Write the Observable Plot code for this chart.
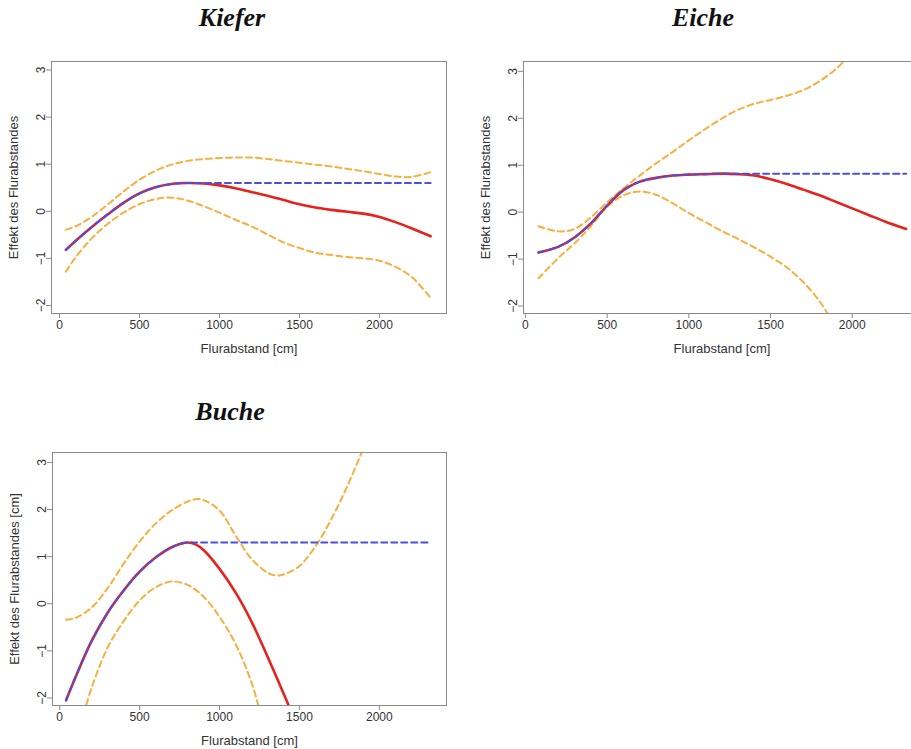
<!DOCTYPE html>
<html>
<head>
<meta charset="utf-8">
<script src="https://cdn.jsdelivr.net/npm/d3@7"></script>
<script src="https://cdn.jsdelivr.net/npm/@observablehq/plot@0.6"></script>
<style>
html, body { margin: 0; padding: 0; background: #fff; overflow: hidden; }
#root { position: relative; width: 911px; height: 749px; overflow: hidden; background: #fff; }
.title { position: absolute; font-family: "Liberation Serif", "DejaVu Serif", serif; font-weight: bold; font-style: italic; font-size: 26px; line-height: 1; color: #111; transform: translateX(-50%); white-space: nowrap; }
.panel { position: absolute; }
</style>
</head>
<body>
<div id="root"></div>
<script>
// ---- tick labels ----
const yTicks = [-2, -1, 0, 1, 2, 3];
const xTicks = [0, 500, 1000, 1500, 2000];
const xLabel = "Flurabstand [cm]";

// ---- Kiefer ----
const kieferX     = [40, 100, 200, 300, 400, 500, 600, 700, 800, 900, 1000, 1100, 1200, 1300, 1400, 1500, 1600, 1700, 1800, 1900, 2000, 2100, 2200, 2320];
const kieferFit   = [-0.82, -0.63, -0.34, -0.07, 0.18, 0.38, 0.51, 0.58, 0.60, 0.59, 0.55, 0.49, 0.41, 0.33, 0.24, 0.15, 0.08, 0.03, -0.01, -0.05, -0.12, -0.23, -0.36, -0.53];
const kieferMono  = [-0.82, -0.63, -0.34, -0.07, 0.18, 0.38, 0.51, 0.58, 0.60, 0.60, 0.60, 0.60, 0.60, 0.60, 0.60, 0.60, 0.60, 0.60, 0.60, 0.60, 0.60, 0.60, 0.60, 0.60];
const kieferUpper = [-0.39, -0.32, -0.12, 0.14, 0.42, 0.67, 0.86, 0.99, 1.07, 1.11, 1.13, 1.14, 1.14, 1.11, 1.07, 1.03, 0.99, 0.95, 0.90, 0.85, 0.79, 0.74, 0.73, 0.83];
const kieferLower = [-1.28, -0.98, -0.58, -0.27, -0.03, 0.15, 0.26, 0.29, 0.23, 0.11, -0.03, -0.18, -0.32, -0.49, -0.66, -0.78, -0.88, -0.93, -0.97, -1.00, -1.05, -1.18, -1.39, -1.84];

// ---- Eiche ----
const eicheX     = [80, 200, 300, 400, 500, 600, 700, 800, 900, 1000, 1100, 1200, 1300, 1400, 1500, 1600, 1700, 1800, 1900, 2000, 2100, 2200, 2330];
const eicheFit   = [-0.86, -0.74, -0.54, -0.24, 0.14, 0.47, 0.65, 0.73, 0.78, 0.80, 0.81, 0.82, 0.81, 0.78, 0.70, 0.60, 0.48, 0.36, 0.22, 0.08, -0.06, -0.20, -0.36];
const eicheMono  = [-0.86, -0.74, -0.54, -0.24, 0.14, 0.47, 0.65, 0.73, 0.78, 0.80, 0.81, 0.82, 0.82, 0.82, 0.82, 0.82, 0.82, 0.82, 0.82, 0.82, 0.82, 0.82, 0.82];
const eicheUpper = [-0.30, -0.41, -0.36, -0.11, 0.21, 0.51, 0.78, 1.04, 1.28, 1.53, 1.77, 1.99, 2.18, 2.31, 2.39, 2.48, 2.60, 2.79, 3.05, 3.40, null, null, null];
const eicheLower = [-1.41, -0.98, -0.67, -0.30, 0.11, 0.36, 0.44, 0.37, 0.19, -0.02, -0.21, -0.40, -0.57, -0.75, -0.95, -1.18, -1.49, -1.90, -2.45, null, null, null, null];

// ---- Buche ----
const bucheX     = [40, 100, 150, 200, 300, 400, 500, 600, 700, 800, 850, 900, 1000, 1100, 1200, 1250, 1300, 1350, 1400, 1450, 1500, 1600, 1700, 1800, 1900, 2000, 2100, 2200, 2320];
const bucheFit   = [-2.05, -1.55, null, -0.79, -0.19, 0.28, 0.68, 0.98, 1.20, 1.30, 1.26, 1.14, 0.74, 0.24, -0.38, null, -1.12, null, -1.90, -2.30, null, null, null, null, null, null, null, null, null];
const bucheMono  = [-2.05, -1.55, null, -0.79, -0.19, 0.28, 0.68, 0.98, 1.20, 1.30, 1.30, 1.30, 1.30, 1.30, 1.30, 1.30, 1.30, 1.30, 1.30, 1.30, 1.30, 1.30, 1.30, 1.30, 1.30, 1.30, 1.30, 1.30, 1.30];
const bucheUpper = [-0.34, -0.30, null, -0.08, 0.33, 0.85, 1.32, 1.70, 1.98, 2.17, 2.22, 2.20, 1.98, 1.45, 0.95, null, 0.66, 0.60, 0.62, null, 0.80, 1.22, 1.80, 2.50, 3.30, null, null, null, null];
const bucheLower = [null, null, -2.35, -1.78, -0.93, -0.37, 0.07, 0.35, 0.47, 0.40, null, 0.15, -0.28, -0.85, -1.67, -2.25, null, null, null, null, null, null, null, null, null, null, null, null, null];

// ---- colours ----
const cOrange = "#f5b040";
const cRed = "#e5231c";
const cBlue = "#4d4ddf";

const root = document.getElementById("root");

function rows(xs, ys) {
  return xs.map((x, i) => ({x, y: ys[i]})).filter(d => d.y != null);
}

function panel({title, titleX, titleTop, xs, fit, mono, upper, lower, yLabel, frame, xDomain, yDomain}) {
  const [fl, ft, fr, fb] = frame;
  const mL = 51, mT = 10, mR = 14, mB = 48;
  const width = fr - fl + mL + mR;
  const height = fb - ft + mT + mB;
  const plot = Plot.plot({
    width, height,
    marginLeft: mL, marginTop: mT, marginRight: mR, marginBottom: mB,
    x: {domain: xDomain},
    y: {domain: yDomain},
    style: {fontFamily: "'Liberation Sans', Arial, Helvetica, sans-serif", fontSize: "12px", color: "#333", background: "transparent", overflow: "visible"},
    marks: [
      Plot.line(rows(xs, upper), {x: "x", y: "y", stroke: cOrange, strokeWidth: 2, strokeDasharray: "6,4", curve: "catmull-rom", clip: true}),
      Plot.line(rows(xs, lower), {x: "x", y: "y", stroke: cOrange, strokeWidth: 2, strokeDasharray: "6,4", curve: "catmull-rom", clip: true}),
      Plot.line(rows(xs, fit), {x: "x", y: "y", stroke: cRed, strokeWidth: 2.6, curve: "catmull-rom", clip: true}),
      Plot.line(rows(xs, mono), {x: "x", y: "y", stroke: cBlue, strokeWidth: 2, strokeDasharray: "6,4", curve: "catmull-rom", clip: true}),
      Plot.frame({stroke: "#8a8a8a", strokeWidth: 1}),
      Plot.axisX({ticks: xTicks, tickSize: 5, tickPadding: 2, stroke: "#8a8a8a", fill: "#333", fontSize: 12, label: null, tickFormat: d => String(d)}),
      Plot.axisY({ticks: yTicks, tickSize: 5, tickPadding: 2, tickRotate: -90, stroke: "#8a8a8a", fill: "#333", fontSize: 12, label: null, tickFormat: d => d < 0 ? "\u2212" + Math.abs(d) : String(d)}),
      Plot.text([xLabel], {text: d => d, frameAnchor: "bottom", dy: 35, textAnchor: "middle", lineAnchor: "middle", fontSize: 13, fill: "#333"}),
      Plot.text([yLabel], {text: d => d, frameAnchor: "left", dx: -38, rotate: -90, textAnchor: "middle", lineAnchor: "middle", fontSize: 13, fill: "#333"})
    ]
  });
  plot.classList.add("panel");
  plot.style.left = (fl - mL) + "px";
  plot.style.top = (ft - mT) + "px";
  plot.style.maxWidth = "none";
  root.appendChild(plot);

  const t = document.createElement("div");
  t.className = "title";
  t.textContent = title;
  t.style.left = titleX + "px";
  t.style.top = titleTop + "px";
  root.appendChild(t);
}

panel({
  title: "Kiefer", titleX: 232, titleTop: 5,
  xs: kieferX, fit: kieferFit, mono: kieferMono, upper: kieferUpper, lower: kieferLower,
  yLabel: "Effekt des Flurabstandes",
  frame: [51, 61, 446, 313], xDomain: [-50, 2419], yDomain: [-2.17, 3.18]
});
panel({
  title: "Eiche", titleX: 703, titleTop: 5,
  xs: eicheX, fit: eicheFit, mono: eicheMono, upper: eicheUpper, lower: eicheLower,
  yLabel: "Effekt des Flurabstandes",
  frame: [523, 61, 920, 313], xDomain: [-12, 2418], yDomain: [-2.16, 3.21]
});
panel({
  title: "Buche", titleX: 230, titleTop: 399,
  xs: bucheX, fit: bucheFit, mono: bucheMono, upper: bucheUpper, lower: bucheLower,
  yLabel: "Effekt des Flurabstandes [cm]",
  frame: [52, 452, 446, 705], xDomain: [-45, 2420], yDomain: [-2.16, 3.21]
});
</script>
</body>
</html>
